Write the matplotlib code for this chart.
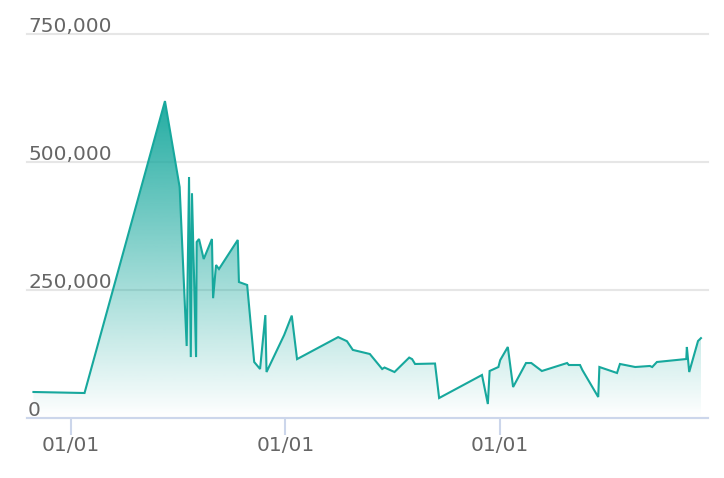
import matplotlib
matplotlib.use("Agg")
import matplotlib.pyplot as plt
import matplotlib.dates as mdates
import numpy as np
import pandas as pd
from matplotlib.colors import to_rgb

# serie
datas = [
    "2018-10-29", "2019-01-24", "2019-06-10", "2019-07-05", "2019-07-17",
    "2019-07-21", "2019-07-24", "2019-07-26", "2019-08-02", "2019-08-03",
    "2019-08-07", "2019-08-15", "2019-08-29", "2019-08-31", "2019-09-05",
    "2019-09-10", "2019-10-12", "2019-10-14", "2019-10-28", "2019-11-09",
    "2019-11-19", "2019-11-28", "2019-11-30", "2019-12-30", "2020-01-12",
    "2020-01-21", "2020-03-31", "2020-04-15", "2020-04-25", "2020-05-24",
    "2020-06-14", "2020-06-18", "2020-07-05", "2020-07-30", "2020-08-04",
    "2020-08-09", "2020-09-12", "2020-09-19", "2020-12-01", "2020-12-11",
    "2020-12-14", "2020-12-29", "2021-01-01", "2021-01-14", "2021-01-23",
    "2021-02-14", "2021-02-23", "2021-03-13", "2021-04-25", "2021-04-28",
    "2021-05-17", "2021-05-21", "2021-06-17", "2021-06-19", "2021-07-19",
    "2021-07-24", "2021-08-19", "2021-09-13", "2021-09-17", "2021-09-25",
    "2021-11-14", "2021-11-15", "2021-11-19", "2021-12-04", "2021-12-09",
]
valores = [
    50800, 48800, 619000, 451000, 140600,
    470700, 119000, 439000, 119000, 343700,
    349600, 310500, 349600, 234000, 298800,
    291000, 347700, 265600, 259800, 109400,
    95700, 201000, 89800, 162000, 200000,
    115000, 158000, 150000, 133000, 125000,
    95700, 98600, 89800, 118000, 115000,
    105500, 106400, 39000, 84000, 27300,
    91800, 99600, 113000, 138700, 60500,
    107400, 107400, 91800, 107400, 103500,
    103500, 93700, 41000, 99600, 87900,
    105500, 99600, 101600, 99600, 109400,
    115200, 138700, 89800, 150400, 156000,
]
yticks = [0, 250000, 500000, 750000]
xlim = ("2018-10-18", "2021-12-21")

COR = "#17a89d"
TEXTO = "#666666"

x = mdates.date2num(pd.to_datetime(datas))
y = np.array(valores, dtype=float)

fig = plt.figure(figsize=(7.24, 4.78), dpi=100)
ax = fig.add_axes([27 / 724, 1 - 418 / 478, 681 / 724, 384 / 478])

# area com degrade: cor cheia no topo, transparente na base
area = ax.fill_between(x, y, 0, color="none", lw=0)
rgb = to_rgb(COR)
grad = np.zeros((256, 1, 4))
grad[:, 0, :3] = rgb
grad[:, 0, 3] = np.linspace(0.95, 0, 256)
img = ax.imshow(grad, aspect="auto", extent=[x.min(), x.max(), 0, y.max()],
                origin="upper", zorder=1)
img.set_clip_path(area.get_paths()[0], transform=ax.transData)
ax.plot(x, y, color=COR, lw=1.5, zorder=3, solid_joinstyle="miter")

ax.set_xlim(mdates.date2num(pd.to_datetime(xlim[0])), mdates.date2num(pd.to_datetime(xlim[1])))
ax.set_ylim(0, 750000)

ax.set_axisbelow(True)
ax.set_yticks(yticks)
ax.yaxis.grid(True, color="#e6e6e6", lw=1.5)
for g in ax.yaxis.get_gridlines():
    g.set_clip_on(False)
ax.tick_params(axis="y", length=0, labelleft=False)
for v in yticks:
    ax.annotate(f"{v:,}", (0, v), xycoords=("axes fraction", "data"),
                xytext=(1, 2), textcoords="offset pixels", ha="left", va="baseline",
                fontsize=14.5, color=TEXTO, zorder=4)

ax.xaxis.set_major_locator(mdates.YearLocator())
ax.xaxis.set_major_formatter(mdates.DateFormatter("%m/%d"))
ax.tick_params(axis="x", length=12, width=1.5, color="#ccd6eb",
               labelsize=14.5, labelcolor=TEXTO, pad=1)

for lado in ("top", "right", "left"):
    ax.spines[lado].set_visible(False)
ax.spines["bottom"].set_color("#ccd6eb")
ax.spines["bottom"].set_linewidth(1.5)
ax.spines["bottom"].set_zorder(5)

fig.savefig("out.png", dpi=100)
